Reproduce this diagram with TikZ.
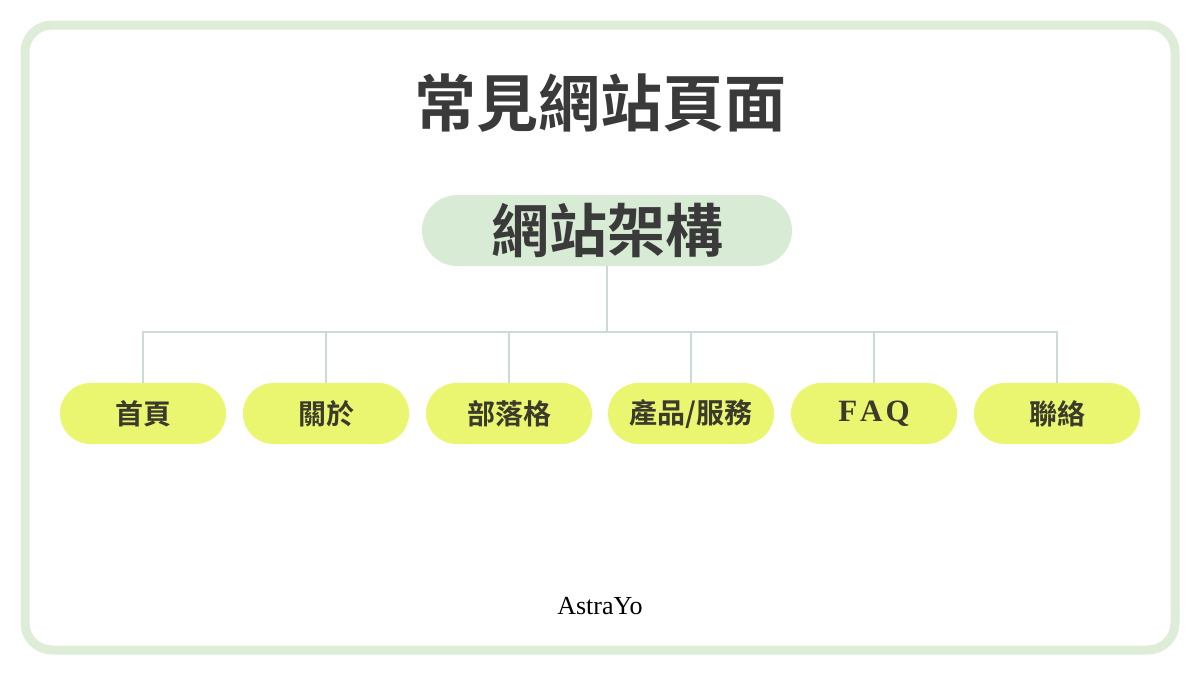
\documentclass[tikz,border=0pt]{standalone}
\usepackage{fontspec}
\setmainfont{Liberation Serif}
\newfontfamily\cjk{Noto Sans CJK TC}[BoldFont={* Bold}]
\definecolor{framegreen}{HTML}{DDEDD8}
\definecolor{rootfill}{HTML}{D8EBD4}
\definecolor{leaffill}{HTML}{EAF570}
\definecolor{linecol}{HTML}{C9DDD6}
\definecolor{txt}{HTML}{3A3A3A}
\definecolor{leaftxt}{HTML}{3B3B2C}
\begin{document}
\begin{tikzpicture}[x=1pt,y=-1pt,
  rootbox/.style={fill=rootfill, rounded corners=35.5pt, minimum width=370pt, minimum height=71pt, inner sep=0pt, text=txt, font=\cjk\bfseries\fontsize{58}{64}\selectfont},
  leafbox/.style={fill=leaffill, rounded corners=30.5pt, minimum width=166pt, minimum height=61pt, inner sep=0pt, text=leaftxt, font=\cjk\bfseries\fontsize{28}{32}\selectfont},
  conn/.style={draw=linecol, line width=1.6pt}]
\useasboundingbox (0,0) rectangle (1200,675);
\fill[white] (0,0) rectangle (1200,675);
\draw[framegreen, line width=9pt, rounded corners=27pt] (25,25) rectangle (1175,650);
\node[text=txt, font=\cjk\bfseries\fontsize{62}{68}\selectfont] (title) at (600,103) {常見網站頁面};
\node[rootbox] (root) at (607,230.5) {網站架構};
\node[leafbox] (l1) at (143,413.5) {首頁};
\node[leafbox] (l2) at (326,413.5) {關於};
\node[leafbox] (l3) at (509,413.5) {部落格};
\node[leafbox] (l4) at (691,413.5) {產品/服務};
\node[leafbox, font=\rmfamily\bfseries\fontsize{31}{34}\selectfont] (l5) at (874,413.5) {\raisebox{-3pt}{F\kern3pt A\kern3pt Q}};
\node[leafbox] (l6) at (1057,413.5) {聯絡};
\coordinate (bus) at (607,332);
\draw[conn] (root.south) -- (bus);
\draw[conn] (l1.north) |- (bus) -| (l6.north);
\foreach \n in {l2,l3,l4,l5} \draw[conn] (\n.north) -- (\n.north |- bus);
\node[text=black, font=\fontsize{26}{30}\selectfont] (brand) at (600,606) {AstraYo};
\end{tikzpicture}
\end{document}
